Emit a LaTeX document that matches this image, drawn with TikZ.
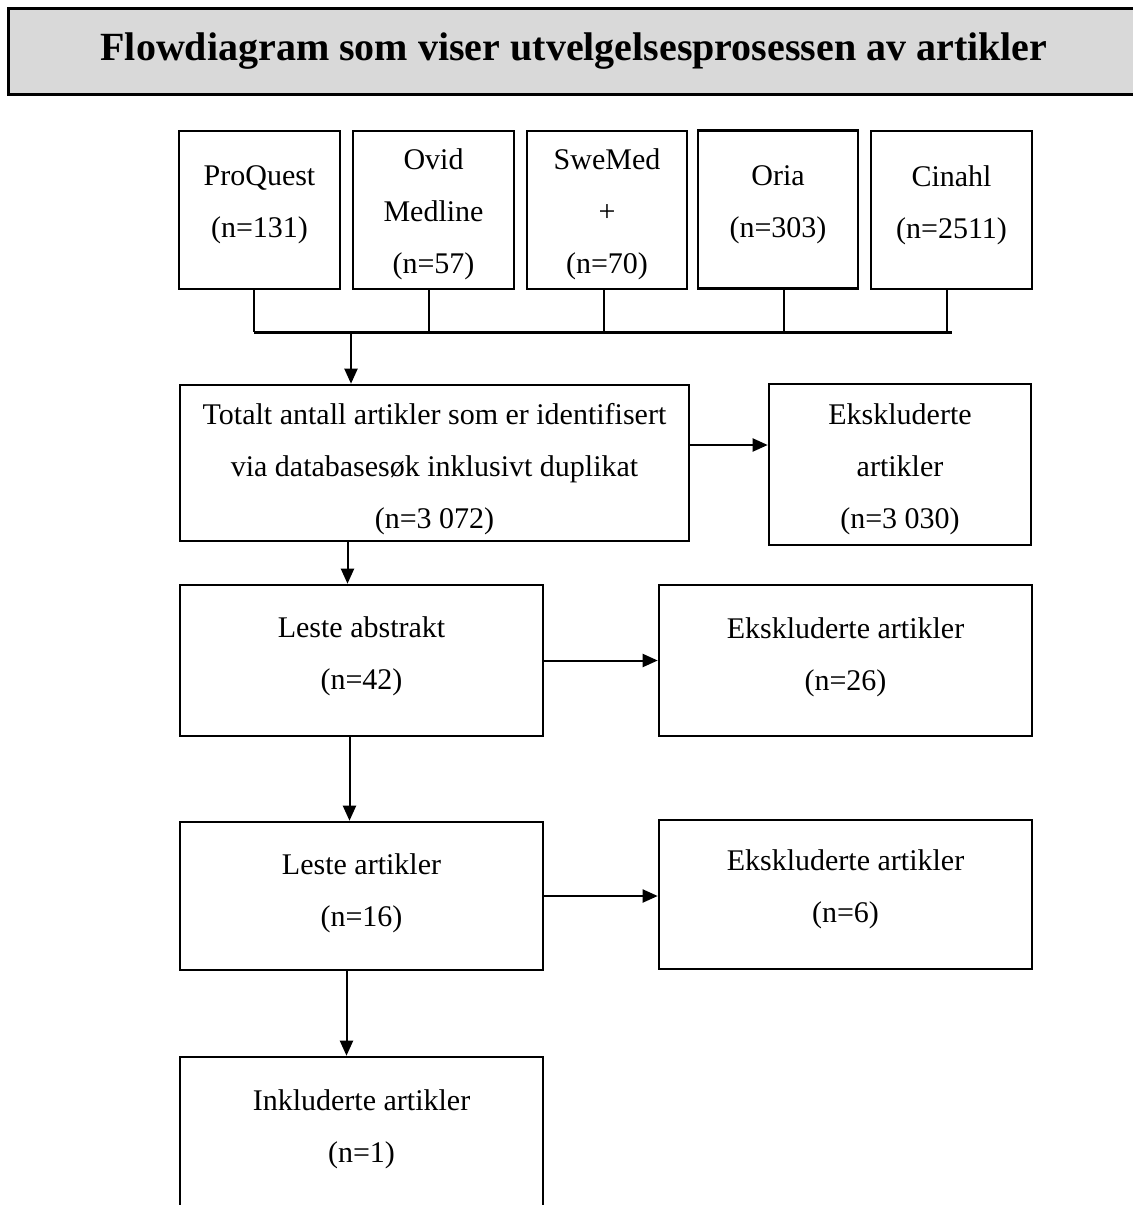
\documentclass[tikz,border=0pt]{standalone}
\usepackage{fontspec}
\setmainfont{Liberation Serif}
\usepackage{tikz}
\usetikzlibrary{arrows.meta}
\definecolor{headgray}{RGB}{217,217,217}
\tikzset{
  headbox/.style={draw=black, fill=headgray, line width=1.5pt, inner sep=0pt,
                  minimum width=566pt, minimum height=43pt,
                  font=\fontsize{20}{24}\selectfont\bfseries},
  flowbox/.style={draw=black, line width=1.3pt, inner sep=0pt},
  boxtext/.style={align=center, inner sep=0pt, font=\fontsize{15}{26}\selectfont},
  arr/.style={-{Triangle[length=7.5pt,width=6.5pt]}, line width=1pt},
  bus/.style={line width=1pt}
}

\begin{document}
\begin{tikzpicture}[x=0.5pt, y=-0.5pt]
  \useasboundingbox (0,0) rectangle (1133,1205);

  % Title
  \node[headbox] (head) at (574,51) {Flowdiagram som viser utvelgelsesprosessen av artikler};

  % Databases
  \node[flowbox, minimum width=80.5pt, minimum height=79pt,
        label={[boxtext, yshift=2.5pt]center:{ProQuest\\(n=131)}}] (pq) at (259.5,210) {};
  \node[flowbox, minimum width=80.5pt, minimum height=79pt,
        label={[boxtext, yshift=-2pt]center:{Ovid\\Medline\\(n=57)}}] (ovid) at (433.5,210) {};
  \node[flowbox, minimum width=80pt, minimum height=79pt,
        label={[boxtext, yshift=-2pt]center:{SweMed\\+\\(n=70)}}] (swemed) at (607,210) {};
  \node[flowbox, minimum width=80pt, minimum height=79pt,
        label={[boxtext, yshift=2.5pt]center:{Oria\\(n=303)}}] (oria) at (778,209.5) {};
  \node[flowbox, minimum width=80.5pt, minimum height=79pt,
        label={[boxtext, yshift=2.5pt]center:{Cinahl\\(n=2511)}}] (cinahl) at (951.5,210) {};

  % Flow boxes
  \node[flowbox, minimum width=254.5pt, minimum height=78pt,
        label={[boxtext, yshift=-3pt]center:{Totalt antall artikler som er identifisert\\via databasesøk inklusivt duplikat\\(n=3 072)}}]
        (totalt) at (434.5,463) {};
  \node[flowbox, minimum width=131pt, minimum height=80.5pt,
        label={[boxtext, yshift=-2.5pt]center:{Ekskluderte\\artikler\\(n=3 030)}}]
        (ex1) at (900,464.5) {};
  \node[flowbox, minimum width=181.5pt, minimum height=75.5pt,
        label={[boxtext, yshift=2pt]center:{Leste abstrakt\\(n=42)}}]
        (abs) at (361.5,660.5) {};
  \node[flowbox, minimum width=186.5pt, minimum height=75.5pt,
        label={[boxtext, yshift=1.75pt]center:{Ekskluderte artikler\\(n=26)}}]
        (ex2) at (845.5,660.5) {};
  \node[flowbox, minimum width=181.5pt, minimum height=74pt,
        label={[boxtext, yshift=1.25pt]center:{Leste artikler\\(n=16)}}]
        (art) at (361.5,896) {};
  \node[flowbox, minimum width=186.5pt, minimum height=74.5pt,
        label={[boxtext, yshift=2.5pt]center:{Ekskluderte artikler\\(n=6)}}]
        (ex3) at (845.5,894.5) {};
  \node[flowbox, minimum width=181.5pt, minimum height=76pt,
        label={[boxtext, yshift=2pt]center:{Inkluderte artikler\\(n=1)}}]
        (inkl) at (361.5,1133) {};

  % Collecting line under the databases
  \coordinate (busl) at (254,332);
  \coordinate (busr) at (952,332);
  \coordinate (drop) at (351,332);
  \foreach \n/\dx in {pq/-2.75pt, ovid/-2.25pt, swemed/-1.5pt, oria/3pt, cinahl/-2.25pt}{
    \draw[bus] ([xshift=\dx]\n.south) -- ([xshift=\dx]\n.south |- busl);
  }
  \draw[line width=1.5pt] (busl) -- (busr);
  \draw[arr] (drop) -- (drop |- totalt.north);

  % Down the main column
  \draw[arr] ([xshift=-7pt]abs.north |- totalt.south) -- ([xshift=-7pt]abs.north);
  \draw[arr] ([xshift=-6pt]abs.south) -- ([xshift=-6pt]art.north);
  \draw[arr] ([xshift=-7.5pt]art.south) -- ([xshift=-7.5pt]inkl.north);

  % Excluded
  \draw[arr] ([yshift=9pt]totalt.east) -- ([yshift=9pt]totalt.east -| ex1.west);
  \draw[arr] (abs.east) -- (abs.east -| ex2.west);
  \draw[arr] (art.east) -- (art.east -| ex3.west);
\end{tikzpicture}
\end{document}
